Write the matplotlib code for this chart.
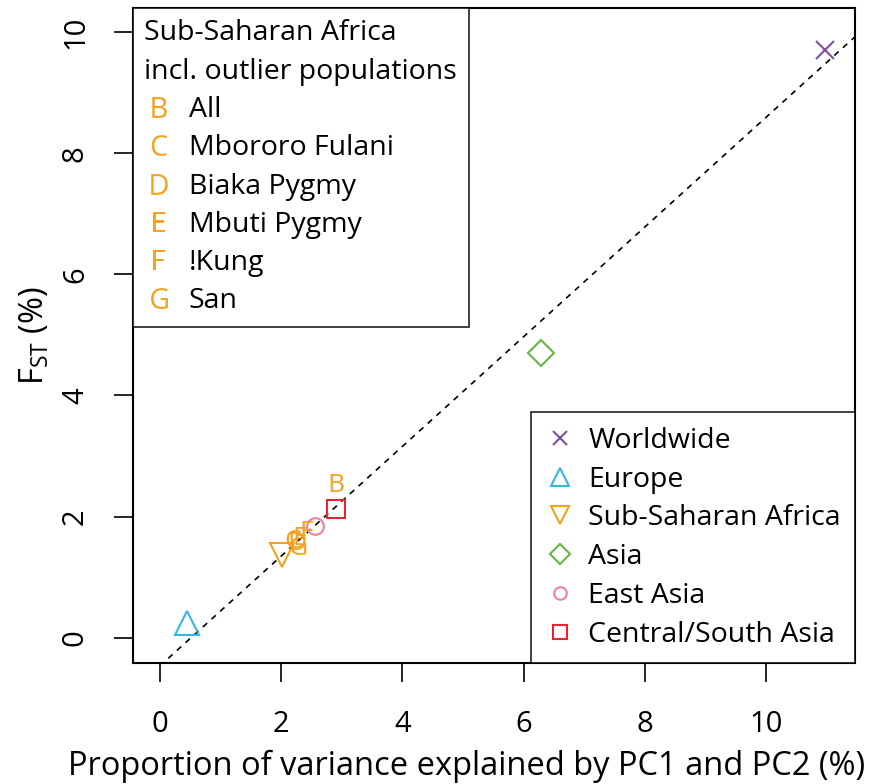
import matplotlib.pyplot as plt
from matplotlib.lines import Line2D

plt.rcParams['font.family'] = ['Open Sans', 'DejaVu Sans']
plt.rcParams['mathtext.fontset'] = 'custom'
plt.rcParams['mathtext.rm'] = 'Open Sans'
plt.rcParams['mathtext.sf'] = 'Open Sans'

# regional points: PC1+PC2 variance (%) vs F_ST (%)
regions = ['Worldwide', 'Europe', 'Sub-Saharan Africa', 'Asia', 'East Asia', 'Central/South Asia']
pc_var = [10.96, 0.45, 2.01, 6.28, 2.56, 2.90]
fst = [9.71, 0.24, 1.36, 4.70, 1.85, 2.13]
markers = ['x', '^', 'v', 'D', 'o', 's']
colors = ['#7d52a3', '#35b6ea', '#f7a11c', '#67b546', '#f07fa8', '#e8242c']
msizes = [13, 17, 17, 13, 12, 13]

# Sub-Saharan Africa incl. outlier populations (letters)
letters = ['B', 'C', 'D', 'E', 'F', 'G']
outlier_names = ['All', 'Mbororo Fulani', 'Biaka Pygmy', 'Mbuti Pygmy', '!Kung', 'San']
out_x = [2.90, 2.19, 2.26, 2.31, 2.41, 2.28]
out_y = [2.52, 1.58, 1.56, 1.63, 1.73, 1.48]
orange = '#f7a11c'

# regression line
intercept, slope = -0.47, 0.907

fig = plt.figure(figsize=(8.78, 7.84), dpi=100)
ax = fig.add_axes([0.1515, 0.1543, 0.8223, 0.8355])

xs = [-1, 12]
ax.plot(xs, [intercept + slope * v for v in xs], ls=(0, (3.5, 3.5)), color='black', lw=1.2)

for x, y, m, c, s in zip(pc_var, fst, markers, colors, msizes):
    ax.plot(x, y, marker=m, ms=s, mfc='none', mec=c, mew=1.5, ls='none')

for x, y, l in zip(out_x, out_y, letters):
    ax.text(x, y, l, color=orange, fontsize=19, ha='center', va='center')

ax.set_xlim(-0.44, 11.46)
ax.set_ylim(-0.42, 10.4)
ax.set_xticks([0, 2, 4, 6, 8, 10])
ax.set_yticks([0, 2, 4, 6, 8, 10])
ax.tick_params(labelsize=21, length=14, width=1.2)
ax.tick_params(axis='x', pad=20)
ax.tick_params(axis='y', pad=17)
for lab in ax.get_yticklabels():
    lab.set_rotation(90)
    lab.set_va('center')
for sp in ax.spines.values():
    sp.set_linewidth(1.5)

ax.set_xlabel('Proportion of variance explained by PC1 and PC2 (%)', fontsize=23.5)
ax.xaxis.set_label_coords(0.4626, -0.132)
ax.set_ylabel(r'F$_{\mathrm{ST}}$ (%)', fontsize=23.5, labelpad=7)

h1 = [Line2D([], [], marker='$\\mathrm{%s}$' % l, color=orange, ls='none', ms=15, mew=0)
      for l in letters]
leg1 = ax.legend(h1, outlier_names, loc='upper left', bbox_to_anchor=(0, 1), borderaxespad=0,
                 fontsize=20.5, title='Sub-Saharan Africa\nincl. outlier populations', title_fontsize=20.5,
                 alignment='left', frameon=True, fancybox=False, edgecolor='black',
                 handlelength=1.0, handletextpad=0.55, labelspacing=0.36, borderpad=0.4)
leg1.get_title().set_linespacing(1.5)
leg1.get_frame().set_linewidth(1.3)
ax.add_artist(leg1)

h2 = [Line2D([], [], marker=m, color=c, mfc='none', mew=1.5, ls='none', ms=s * 0.75)
      for m, c, s in zip(markers, colors, msizes)]
leg2 = ax.legend(h2, regions, loc='lower right', bbox_to_anchor=(1, 0), borderaxespad=0,
                 fontsize=20.5, frameon=True, fancybox=False, edgecolor='black',
                 handlelength=1.0, handletextpad=0.5, labelspacing=0.38, borderpad=0.5)
leg2.get_frame().set_linewidth(1.3)

fig.savefig('out.png', dpi=100)
